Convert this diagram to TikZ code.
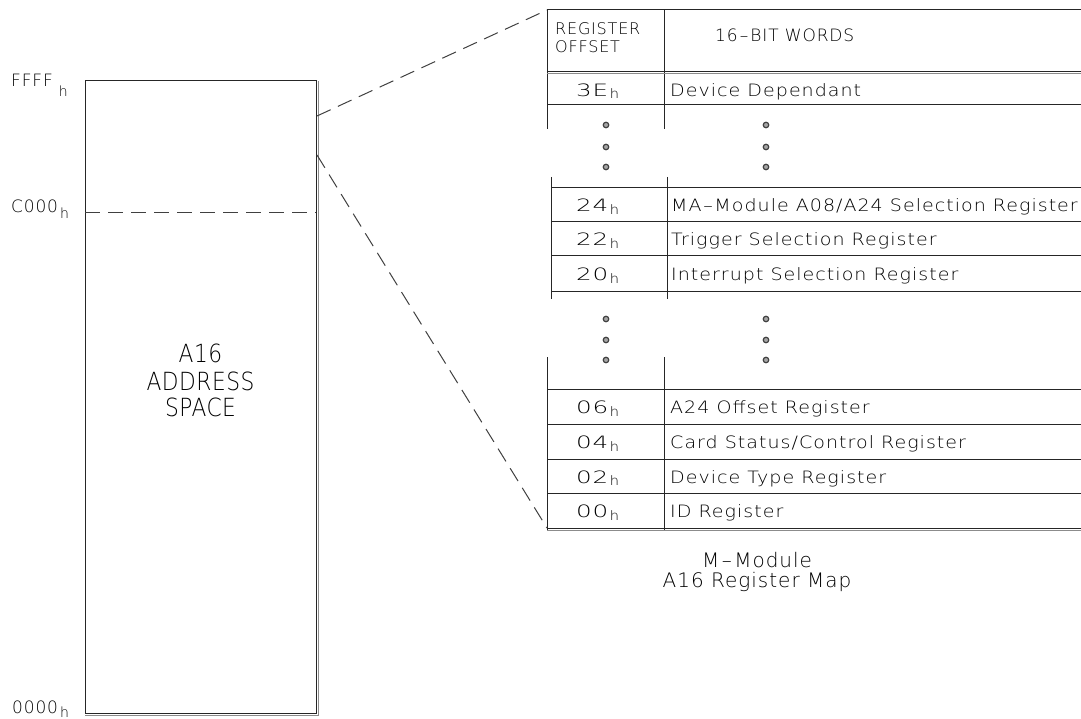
\documentclass[tikz,border=0pt]{standalone}
\usepackage{fontspec}
\setmainfont{DejaVuSans-ExtraLight.ttf}[LetterSpace=5]
\newfontfamily\rowf{DejaVuSans-ExtraLight.ttf}[FakeStretch=1.12, LetterSpace=6]
\newfontfamily\offf{DejaVuSans-ExtraLight.ttf}[FakeStretch=1.45, LetterSpace=5]
\newfontfamily\bigf{DejaVuSans-ExtraLight.ttf}[FakeStretch=0.87, LetterSpace=2]
\newcommand\hx{\kern1.5pt\raisebox{-2.5pt}{\rowf\fontsize{13}{13}\selectfont h}}
\newcommand\hl[2]{\kern#1\raisebox{-#2}{\fontsize{14}{14}\selectfont h}}
\newcommand\cdash{\makebox[0.75em]{–}}
\tikzset{
  ln/.style={line width=1pt, draw=black!85},
  gl/.style={line width=1.6pt, draw=black!45},
  dsh/.style={line width=1pt, draw=black!75, dash pattern=on 15pt off 8pt},
  txt/.style={anchor=base west, inner sep=0pt, font=\rowf\fontsize{17}{17}\selectfont},
  offs/.style={anchor=base west, inner sep=0pt, font=\offf\fontsize{17}{17}\selectfont},
  hdr/.style={anchor=base west, inner sep=0pt, font=\fontsize{16}{16}\selectfont},
  lbl/.style={anchor=base west, inner sep=0pt, font=\fontsize{17}{17}\selectfont},
  big/.style={anchor=base, inner sep=0pt, font=\bigf\fontsize{25}{25}\selectfont},
  captxt/.style={anchor=base, inner sep=0pt, font=\fontsize{20}{20}\selectfont},
  dotm/.style={circle, minimum size=5.5pt, inner sep=0pt, draw=black!75, fill=black!35, line width=1.2pt},
}
\begin{document}
\begin{tikzpicture}[x=1pt,y=-1pt]
\useasboundingbox (0,0) rectangle (1081,719);
% ---------------- left address space box
\draw[ln] (316.5,81) -- (85,81) -- (85,713) -- (316.5,713);
\draw[ln] (316.5,81) -- (316.5,713);
\draw[gl] (318.5,81) -- (318.5,716);
\draw[gl] (85,715.5) -- (318.5,715.5);
\draw[dsh] (85,213) -- (316,213);
\node[lbl] (ffff) at (11,87) {FFFF\hl{6pt}{10pt}};
\node[lbl] (c000) at (11,213) {C000\hl{2pt}{6pt}};
\node[lbl] (z000) at (12,713) {0000\hl{2pt}{4pt}};
\node[big] (sp1) at (200.5,362) {A16};
\node[big] (sp2) at (200.5,390) {ADDRESS};
\node[big] (sp3) at (200.5,416) {SPACE};
% ---------------- connectors
\coordinate (zt) at (317,116);
\coordinate (zb) at (317,155);
\coordinate (tl) at (547,10);
\coordinate (bl) at (547,528);
\draw[dsh] (zt) -- (tl);
\draw[dsh] (zb) -- (bl);
% ---------------- table, upper part
\draw[ln] (547,129) -- (547,10) -- (1081,10);
\draw[ln] (664,10) -- (664,129);
\draw[ln] (547,71.5) -- (1081,71.5);
\draw[gl] (547,73.5) -- (1081,73.5);
\draw[ln] (547,105) -- (1081,105);
\node[hdr] (reg) at (555,35) {REGISTER};
\node[hdr] (off) at (555,53) {OFFSET};
\node[lbl] (words) at (715,42) {16\cdash BIT WORDS};
\node[offs] (o3e) at (576,96.5) {3E\hx};
\node[txt] (d3e) at (670,96.5) {Device Dependant};
% dots
\foreach \yy in {125,147,167,319,340,360}{
  \node[dotm] at (606,\yy) {};
  \node[dotm] at (766,\yy) {};
}
% ---------------- table, middle part
\draw[ln] (551,177) -- (551,299);
\draw[ln] (667,177) -- (667,299);
\foreach \yy in {188,222,256,291}{ \draw[ln] (551,\yy) -- (1081,\yy); }
\node[offs] (o24) at (576,212) {24\hx};
\node[txt] (d24) at (671,212) {MA\cdash Module A08/A24 Selection Register};
\node[offs] (o22) at (576,246) {22\hx};
\node[txt] (d22) at (671,246) {Trigger Selection Register};
\node[offs] (o20) at (576,280.5) {20\hx};
\node[txt] (d20) at (671,280.5) {Interrupt Selection Register};
% ---------------- table, lower part
\draw[ln] (547,357) -- (547,530);
\draw[ln] (664,357) -- (664,530);
\foreach \yy in {389,424,459,493,528}{ \draw[ln] (547,\yy) -- (1081,\yy); }
\draw[gl] (547,530.3) -- (1081,530.3);
\node[offs] (o06) at (576,413.5) {06\hx};
\node[txt] (d06) at (670,413.5) {A24 Offset Register};
\node[offs] (o04) at (576,448.5) {04\hx};
\node[txt] (d04) at (670,448.5) {Card Status/Control Register};
\node[offs] (o02) at (576,483) {02\hx};
\node[txt] (d02) at (670,483) {Device Type Register};
\node[offs] (o00) at (576,517.5) {00\hx};
\node[txt] (d00) at (670,517.5) {ID Register};
% ---------------- caption
\node[captxt] (cap1) at (757,567) {M\cdash Module};
\node[captxt] (cap2) at (757,587) {A16 Register Map};
\end{tikzpicture}
\end{document}
